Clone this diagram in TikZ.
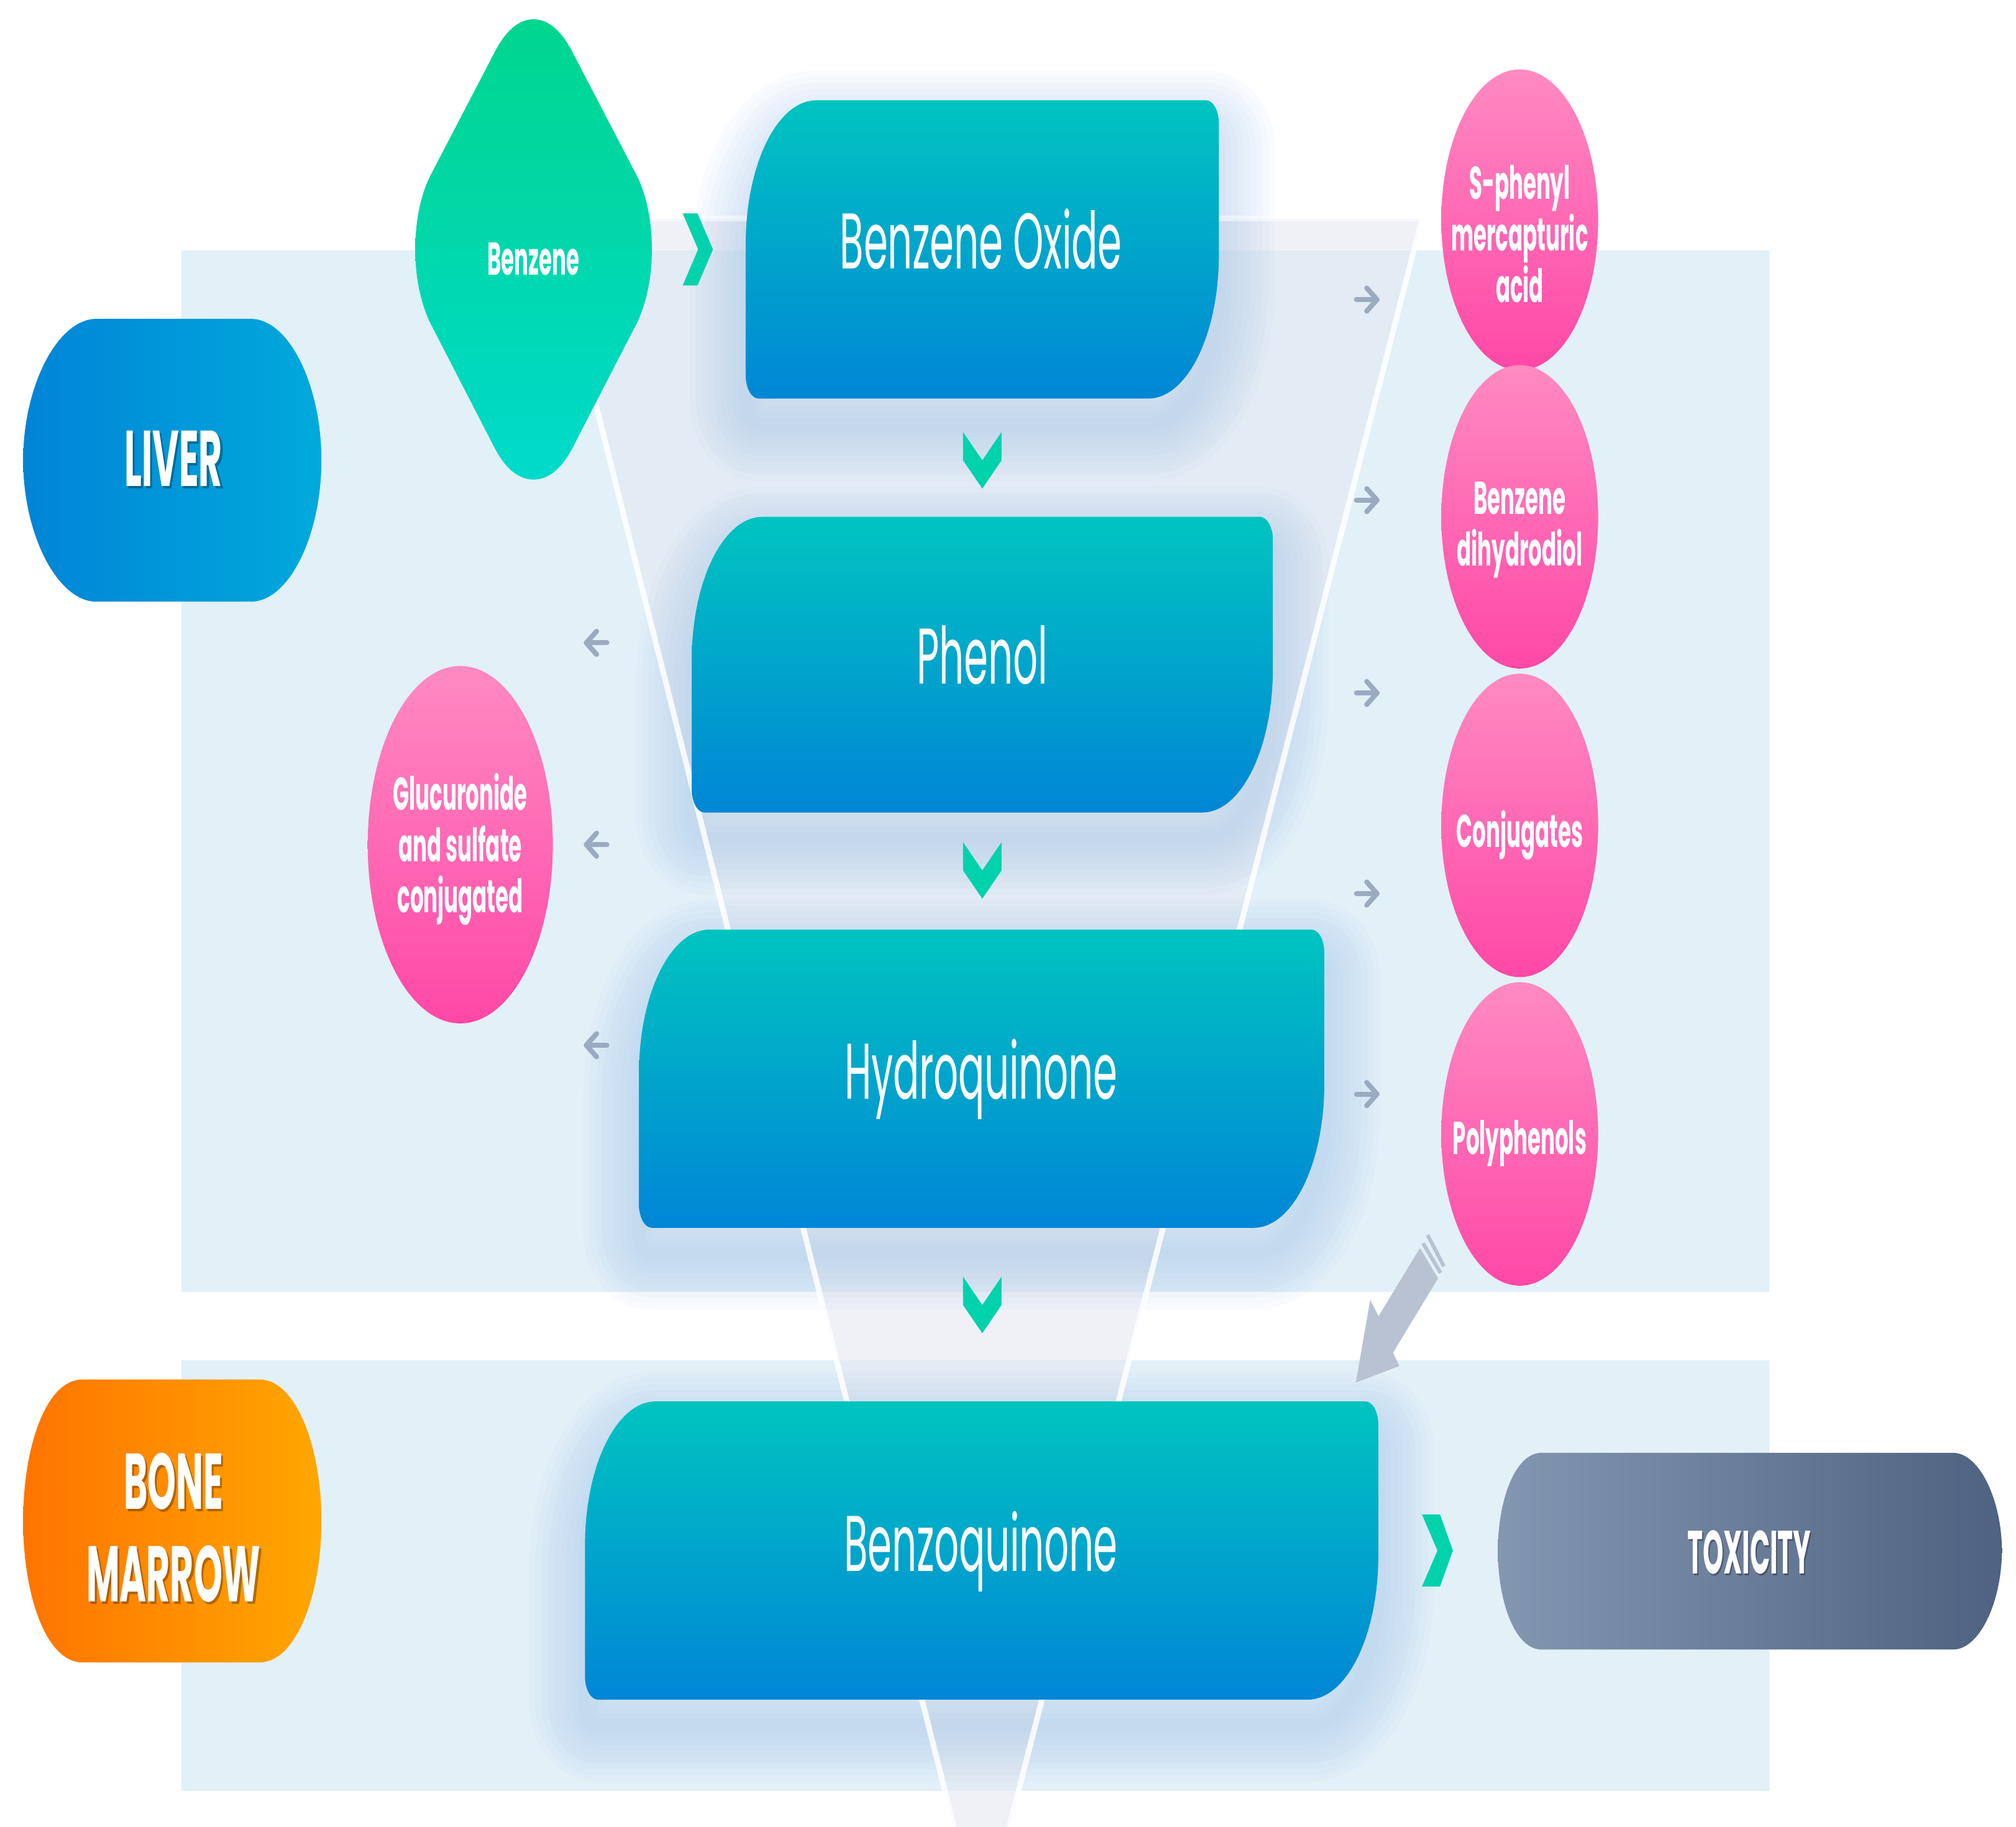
\documentclass[tikz,border=0pt]{standalone}
\usepackage{fontspec}
\setmainfont{Poppins}
\newfontfamily\lablight[FakeStretch=0.49]{Poppins}
\newfontfamily\labbold[FakeStretch=0.46]{Poppins}
\newfontfamily\toxbold[FakeStretch=0.43]{Poppins}
\definecolor{panelc}{HTML}{E2F0F8}
\definecolor{funnelc}{HTML}{E4E7F2}
\definecolor{glowc}{HTML}{8FB8E8}
\definecolor{tealtop}{HTML}{00C4C0}
\definecolor{tealbot}{HTML}{0086D6}
\definecolor{greentop}{HTML}{00D68E}
\definecolor{greenbot}{HTML}{00DACB}
\definecolor{pinktop}{HTML}{FF8AC2}
\definecolor{pinkbot}{HTML}{FF48A6}
\definecolor{chevc}{HTML}{00D2AC}
\definecolor{arrowc}{HTML}{9AAAC0}
\definecolor{bigarrowc}{HTML}{B8C2D3}
\definecolor{liverl}{HTML}{0084D6}
\definecolor{liverr}{HTML}{00AADC}
\definecolor{bonel}{HTML}{FF7400}
\definecolor{boner}{HTML}{FFA700}
\definecolor{toxl}{HTML}{8497B1}
\definecolor{toxr}{HTML}{4E6281}
\tikzset{
  bigtext/.style={text=white, font=\lablight\fontsize{127}{150}\selectfont, anchor=base, inner sep=0pt},
  pinktext/.style={text=white, font=\labbold\bfseries\fontsize{74}{82.8}\selectfont, anchor=base, align=center, inner sep=0pt},
  regiontext/.style={text=white, font=\labbold\bfseries\fontsize{127}{149}\selectfont, anchor=base, align=center, inner sep=0pt},
  toxtext/.style={text=white, font=\toxbold\bfseries\fontsize{98}{110}\selectfont, anchor=base, inner sep=0pt},
  shadowtext/.style={text=black, opacity=0.3},
  chev/.style={fill=chevc},
  garrow/.style={draw=arrowc, line width=8pt, line cap=round, line join=round},
  fline/.style={draw=white, line width=9pt, opacity=0.85},
}
\newcommand{\leafpath}[4]{(#1+55,#2) -- (#3-10,#2) .. controls (#3-4.5,#2) and (#3,#2+8) .. (#3,#2+18) -- (#3,#4-112) .. controls (#3,#4-50) and (#3-24.6,#4) .. (#3-55,#4) -- (#1+10,#4) .. controls (#1+4.5,#4) and (#1,#4-8) .. (#1,#4-18) -- (#1,#2+112) .. controls (#1,#2+50) and (#1+24.6,#2) .. (#1+55,#2) -- cycle}
\newcommand{\leafglow}[4]{%
  \foreach \w in {180,160,140,120,100,80,60,40,20}{\draw[glowc, line width=\w pt, opacity=0.045, line join=round, yshift=-42pt] \leafpath{#1}{#2}{#3}{#4};}}
\newcommand{\leaffill}[4]{\shade[top color=tealtop, bottom color=tealbot] \leafpath{#1}{#2}{#3}{#4};}
\begin{document}
\begin{tikzpicture}[x=2.0689pt, y=-2.0689pt]
\useasboundingbox (0,0) rectangle (1568,1420.6);
\fill[white] (0,0) rectangle (1568,1420.6);
% panels
\fill[panelc] (141,195) rectangle (1376,1005);
\fill[panelc] (141,1058) rectangle (1376,1393);
% funnel
\fill[funnelc, opacity=0.55] (427,170) -- (1106,170) -- (785,1421) -- (742,1421) -- cycle;
% glows
\leafglow{580}{78}{948}{310}
\leafglow{538}{402}{990}{632}
\leafglow{497}{723}{1030}{955}
\leafglow{455}{1090}{1072}{1322}
% funnel lines
\draw[fline] (427,170) -- (742,1421);
\draw[fline] (1106,170) -- (785,1421);
\draw[fline, opacity=0.5] (427,170) -- (1106,170);
% teal boxes
\leaffill{580}{78}{948}{310}
\leaffill{538}{402}{990}{632}
\leaffill{497}{723}{1030}{955}
\leaffill{455}{1090}{1072}{1322}
% benzene diamond
\shade[top color=greentop, bottom color=greenbot] (415,15) .. controls (400,15) and (390,30) .. (384,42) -- (334,138) .. controls (326,155) and (323,175) .. (323,194) .. controls (323,213) and (326,232) .. (334,250) -- (384,347) .. controls (390,359) and (400,373) .. (415,373) .. controls (430,373) and (440,359) .. (446,347) -- (496,250) .. controls (504,232) and (507,213) .. (507,194) .. controls (507,175) and (504,155) .. (496,138) -- (446,42) .. controls (440,30) and (430,15) .. (415,15) -- cycle;
% liver
\shade[left color=liverl, right color=liverr] (75,248) -- (195,248) .. controls (225,248) and (250,300) .. (250,358) .. controls (250,416) and (225,468) .. (195,468) -- (75,468) .. controls (45,468) and (18,416) .. (18,358) .. controls (18,300) and (45,248) .. (75,248) -- cycle;
% bone marrow
\shade[left color=bonel, right color=boner] (64,1073) -- (202,1073) .. controls (230,1073) and (250,1125) .. (250,1183) .. controls (250,1241) and (230,1293) .. (202,1293) -- (64,1293) .. controls (36,1293) and (18,1241) .. (18,1183) .. controls (18,1125) and (36,1073) .. (64,1073) -- cycle;
% toxicity
\shade[left color=toxl, right color=toxr] (1199,1130) -- (1519,1130) .. controls (1540,1130) and (1557,1168) .. (1557,1206) .. controls (1557,1245) and (1540,1283) .. (1519,1283) -- (1199,1283) .. controls (1178,1283) and (1165,1245) .. (1165,1206) .. controls (1165,1168) and (1178,1130) .. (1199,1130) -- cycle;
% pink ellipses
\shade[top color=pinktop, bottom color=pinkbot] (1182,171) ellipse [x radius=61, y radius=117];
\shade[top color=pinktop, bottom color=pinkbot] (1182,402) ellipse [x radius=61, y radius=118];
\shade[top color=pinktop, bottom color=pinkbot] (1182,642) ellipse [x radius=61, y radius=118];
\shade[top color=pinktop, bottom color=pinkbot] (1182,882) ellipse [x radius=61, y radius=118];
\shade[top color=pinktop, bottom color=pinkbot] (358,657) ellipse [x radius=72, y radius=139];
% chevrons
\fill[chev] (531,166) -- (542.5,166) -- (554.5,194) -- (542.5,222) -- (531,222) -- (543,194) -- cycle;
\foreach \dy in {0,319,657}{
  \fill[chev] (749,336+\dy) -- (764,358+\dy) -- (779,336+\dy) -- (779,358+\dy) -- (764,380+\dy) -- (749,358+\dy) -- cycle;}
\fill[chev] (1106,1178) -- (1120,1178) -- (1130,1206) -- (1120,1234) -- (1106,1234) -- (1118,1206) -- cycle;
% small arrows
\foreach \yy in {233,389,539,695,851}{
  \draw[garrow] (1055,\yy) -- (1071,\yy);
  \draw[garrow] (1063,\yy-9) -- (1071,\yy) -- (1063,\yy+9);}
\foreach \yy in {500,657,813}{
  \draw[garrow] (472,\yy) -- (456,\yy);
  \draw[garrow] (464,\yy-9) -- (456,\yy) -- (464,\yy+9);}
% big arrow
\fill[bigarrowc] (1054.5,1075.4) -- (1065.7,1011) -- (1072.2,1023.8) -- (1104.4,970.7) -- (1118.5,994.3) -- (1083.5,1052) -- (1088.3,1062.5) -- cycle;
\draw[bigarrowc, line width=6pt] (1106.7,966.9) -- (1120.4,990);
\draw[bigarrowc, line width=6pt] (1110.3,960.5) -- (1123,985);
% texts
\node[bigtext] (oxide) at (763,209) {Benzene Oxide};
\node[bigtext] (phenol) at (764,532) {Phenol};
\node[bigtext] (hydro) at (763,855) {Hydroquinone};
\node[bigtext] (benzo) at (763,1222) {Benzoquinone};
\node[pinktext] (benzene) at (415,214) {Benzene};
\node[pinktext] (sphenyl) at (1182,235) {S-phenyl\\mercapturic\\acid};
\node[pinktext] (diol) at (1182,440) {Benzene\\dihydrodiol};
\node[pinktext] (conj) at (1182,659) {Conjugates};
\node[pinktext] (poly) at (1182,898) {Polyphenols};
\node[pinktext] (gluc) at (358,710) {Glucuronide\\and sulfate\\conjugated};
\node[regiontext, shadowtext] (livers) at (136.5,380) {LIVER};
\node[regiontext] (liver) at (135,378) {LIVER};
\node[regiontext, shadowtext] (marrows) at (136.5,1248) {BONE\\MARROW};
\node[regiontext] (marrow) at (135,1246) {BONE\\MARROW};
\node[toxtext, shadowtext] (toxs) at (1361.5,1225.5) {TOXICITY};
\node[toxtext] (tox) at (1360.5,1224) {TOXICITY};
\end{tikzpicture}
\end{document}
